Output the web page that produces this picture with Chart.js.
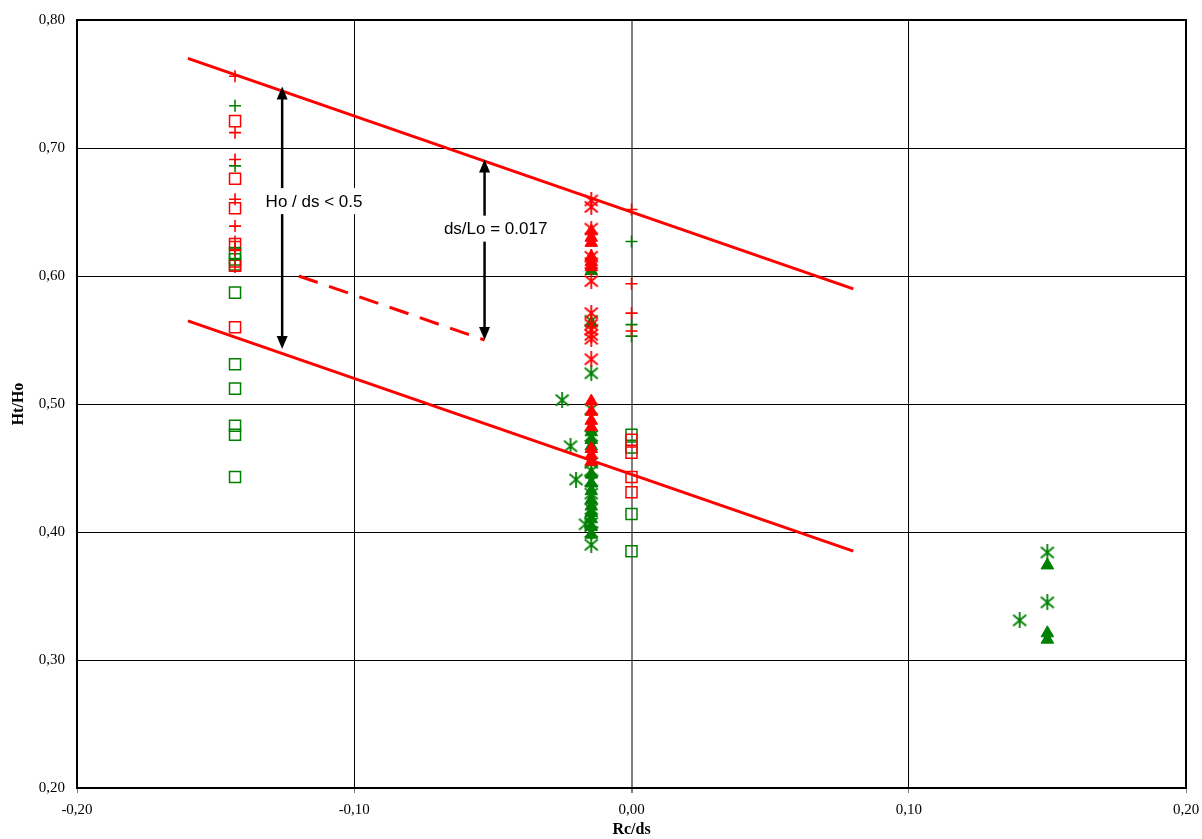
<!DOCTYPE html>
<html>
<head>
<meta charset="utf-8">
<script src="https://cdn.jsdelivr.net/npm/chart.js@4.4.1/dist/chart.umd.min.js"></script>
<style>
  html, body { margin: 0; padding: 0; background: #fff; }
  #wrap { width: 1202px; height: 839px; }
</style>
</head>
<body>
<div id="wrap"><canvas id="c" width="1202" height="839"></canvas></div>
<script>
// Rc/ds columns where the measurements were taken
const rcLeft = -0.143;
const rcMid = -0.0145;
const rcZero = 0.0;
const rcRight = 0.15;

// Ht/Ho values per marker type and column
const redPlusLeft   = [0.756, 0.712, 0.691, 0.660, 0.639, 0.627, 0.620, 0.607];
const greenPlusLeft = [0.733, 0.686, 0.622, 0.613];
const redSquareLeft = [0.721, 0.676, 0.653, 0.625, 0.608, 0.560];
const greenSquareLeft = [0.618, 0.613, 0.609, 0.587, 0.531, 0.512, 0.483, 0.476, 0.443];

const redStarMid = [0.659, 0.654, 0.637, 0.615, 0.610, 0.596, 0.571, 0.562, 0.558, 0.554, 0.551, 0.535];
const redTriMid  = [0.635, 0.630, 0.626, 0.615, 0.611, 0.607, 0.502, 0.494, 0.487, 0.482, 0.465, 0.460, 0.455];
const greenTriMid = [0.604, 0.563, 0.478, 0.472, 0.467, 0.445, 0.438, 0.432, 0.425, 0.420, 0.415, 0.410, 0.404, 0.398];
const greenStarMid = [0.565, 0.524, 0.496, 0.475, 0.454, 0.448, 0.440, 0.430, 0.418, 0.407, 0.400, 0.390];

const redPlusZero   = [0.652, 0.594, 0.571, 0.557];
const greenPlusZero = [0.627, 0.562, 0.553];
const redSquareZero = [0.472, 0.462, 0.443, 0.431];
const greenSquareZero = [0.476, 0.466, 0.414, 0.385];

const greenStarRight = [0.384, 0.345];
const greenTriRight  = [0.374, 0.321, 0.316];

// scattered single points
const greenStarLoneX = [-0.025, -0.022, -0.020, -0.0166, 0.140];
const greenStarLoneY = [0.503, 0.467, 0.441, 0.406, 0.331];

// envelope lines
const upperLineX = [-0.16, 0.08];
const upperLineY = [0.77, 0.59];
const lowerLineX = [-0.16, 0.08];
const lowerLineY = [0.565, 0.385];
const dashedLineX = [-0.12, -0.053];
const dashedLineY = [0.60, 0.55];

// double arrows with their labels
const arrowX = [-0.126, -0.053];
const arrowTopY = [0.748, 0.691];
const arrowBottomY = [0.543, 0.550];
const arrowLabels = ['Ho / ds < 0.5', 'ds/Lo = 0.017'];
const arrowLabelX = [-0.1145, -0.0490];
const arrowLabelY = [0.6585, 0.6370];

// axis ticks
const xTicks = [-0.20, -0.10, 0.00, 0.10, 0.20];
const yTicks = [0.20, 0.30, 0.40, 0.50, 0.60, 0.70, 0.80];

const RED = '#ff0000';
const GREEN = '#008000';

function col(x, ys) { return ys.map(y => ({ x, y })); }
function pairs(xs, ys) { return xs.map((x, i) => ({ x, y: ys[i] })); }

// asterisk marker: a cross with a vertical bar through it
function asterisk(color) {
  const c = document.createElement('canvas');
  c.width = 16; c.height = 16;
  const g = c.getContext('2d');
  g.strokeStyle = color;
  g.lineWidth = 1.8;
  g.lineCap = 'butt';
  g.beginPath();
  g.moveTo(1.5, 2.5); g.lineTo(14.5, 13.5);
  g.moveTo(14.5, 2.5); g.lineTo(1.5, 13.5);
  g.moveTo(8, 0); g.lineTo(8, 16);
  g.stroke();
  return c;
}
const redStar = asterisk(RED);
const greenStar = asterisk(GREEN);

function plusSet(data, color) {
  return { data, pointStyle: 'cross', pointRadius: 6, borderColor: color, backgroundColor: color, pointBorderWidth: 1.6, showLine: false };
}
function squareSet(data, color) {
  return { data, pointStyle: 'rect', pointRadius: 7.8, borderColor: color, backgroundColor: 'rgba(0,0,0,0)', pointBorderWidth: 1.5, showLine: false };
}
function triSet(data, color) {
  return { data, pointStyle: 'triangle', pointRadius: 7.3, borderColor: color, backgroundColor: color, pointBorderWidth: 1, showLine: false };
}
function starSet(data, img) {
  return { data, pointStyle: img, pointRadius: 7, showLine: false };
}
function lineSet(xs, ys, dash) {
  return { data: pairs(xs, ys), showLine: true, borderColor: RED, borderWidth: 3, pointRadius: 0, borderDash: dash || [], fill: false };
}

// arrows and their labels
const arrowPlugin = {
  id: 'arrows',
  afterDatasetsDraw(chart) {
    const { ctx, scales: { x, y } } = chart;
    ctx.save();
    for (let i = 0; i < arrowX.length; i++) {
      const px = x.getPixelForValue(arrowX[i]);
      const yTop = y.getPixelForValue(arrowTopY[i]);
      const yBot = y.getPixelForValue(arrowBottomY[i]);
      const head = 13, hw = 5.5;
      ctx.strokeStyle = '#000';
      ctx.fillStyle = '#000';
      ctx.lineWidth = 2.5;
      ctx.beginPath();
      ctx.moveTo(px, yTop + head - 1);
      ctx.lineTo(px, yBot - head + 1);
      ctx.stroke();
      ctx.beginPath();
      ctx.moveTo(px, yTop); ctx.lineTo(px - hw, yTop + head); ctx.lineTo(px + hw, yTop + head); ctx.closePath();
      ctx.fill();
      ctx.beginPath();
      ctx.moveTo(px, yBot); ctx.lineTo(px - hw, yBot - head); ctx.lineTo(px + hw, yBot - head); ctx.closePath();
      ctx.fill();
    }
    ctx.font = '17px "Liberation Sans", Arial, sans-serif';
    ctx.textAlign = 'center';
    ctx.textBaseline = 'middle';
    for (let i = 0; i < arrowLabels.length; i++) {
      const lx = x.getPixelForValue(arrowLabelX[i]);
      const ly = y.getPixelForValue(arrowLabelY[i]);
      const w = ctx.measureText(arrowLabels[i]).width;
      ctx.fillStyle = '#fff';
      ctx.fillRect(lx - w / 2 - 4, ly - 13, w + 8, 26);
      ctx.fillStyle = '#000';
      ctx.fillText(arrowLabels[i], lx, ly + 1);
    }
    ctx.restore();
  }
};

// heavier frame round the plot area
const framePlugin = {
  id: 'frame',
  beforeDatasetsDraw(chart) {
    const { ctx, chartArea: a } = chart;
    ctx.save();
    ctx.strokeStyle = '#000';
    ctx.lineWidth = 2;
    ctx.strokeRect(a.left, a.top, a.right - a.left, a.bottom - a.top);
    ctx.restore();
  }
};

function fmt(v) {
  if (Math.abs(v) < 1e-9) v = 0;
  return v.toFixed(2).replace('.', ',');
}

new Chart(document.getElementById('c'), {
  type: 'scatter',
  data: {
    datasets: [
      lineSet(upperLineX, upperLineY),
      lineSet(lowerLineX, lowerLineY),
      lineSet(dashedLineX, dashedLineY, [20, 12]),
      plusSet(col(rcLeft, redPlusLeft), RED),
      plusSet(col(rcLeft, greenPlusLeft), GREEN),
      squareSet(col(rcLeft, redSquareLeft), RED),
      squareSet(col(rcLeft, greenSquareLeft), GREEN),
      triSet(col(rcMid, redTriMid), RED),
      starSet(col(rcMid, redStarMid), redStar),
      triSet(col(rcMid, greenTriMid), GREEN),
      starSet(col(rcMid, greenStarMid), greenStar),
      plusSet(col(rcZero, redPlusZero), RED),
      plusSet(col(rcZero, greenPlusZero), GREEN),
      squareSet(col(rcZero, redSquareZero), RED),
      squareSet(col(rcZero, greenSquareZero), GREEN),
      starSet(col(rcRight, greenStarRight), greenStar),
      triSet(col(rcRight, greenTriRight), GREEN),
      starSet(pairs(greenStarLoneX, greenStarLoneY), greenStar)
    ]
  },
  options: {
    responsive: false,
    animation: false,
    events: [],
    layout: { padding: { top: 20, right: 16, left: 0, bottom: 0 } },
    plugins: { legend: { display: false }, tooltip: { enabled: false } },
    scales: {
      x: {
        type: 'linear',
        min: -0.2, max: 0.2,
        afterBuildTicks: s => { s.ticks = xTicks.map(v => ({ value: v })); },
        afterFit: s => { s.height = 51; s.paddingLeft = 0; s.paddingRight = 0; },
        ticks: {
          callback: fmt,
          color: '#000',
          padding: 8,
          maxRotation: 0,
          font: { family: '"Liberation Serif", "Times New Roman", serif', size: 15 }
        },
        grid: {
          color: c => (c.tick && Math.abs(c.tick.value) < 1e-9) ? '#808080' : '#000',
          lineWidth: c => (c.tick && Math.abs(c.tick.value) < 1e-9) ? 2 : 1,
          tickColor: '#808080',
          tickLength: 5,
          drawTicks: true
        },
        border: { display: true, color: '#000', width: 2 },
        title: {
          display: true,
          text: 'Rc/ds',
          color: '#000',
          padding: { top: 0, bottom: 0 },
          font: { family: '"Liberation Serif", "Times New Roman", serif', size: 16, weight: 'bold' }
        }
      },
      y: {
        type: 'linear',
        min: 0.2, max: 0.8,
        afterBuildTicks: s => { s.ticks = yTicks.map(v => ({ value: v })); },
        afterFit: s => { s.width = 77; s.paddingTop = 0; s.paddingBottom = 0; },
        ticks: {
          callback: fmt,
          color: '#000',
          padding: 12,
          font: { family: '"Liberation Serif", "Times New Roman", serif', size: 15 }
        },
        grid: { color: '#000', lineWidth: 1, drawTicks: false },
        border: { display: true, color: '#000', width: 2 },
        title: {
          display: true,
          text: 'Ht/Ho',
          color: '#000',
          padding: { top: 9, bottom: 0 },
          font: { family: '"Liberation Serif", "Times New Roman", serif', size: 16, weight: 'bold' }
        }
      }
    }
  },
  plugins: [framePlugin, arrowPlugin]
});
</script>
</body>
</html>
